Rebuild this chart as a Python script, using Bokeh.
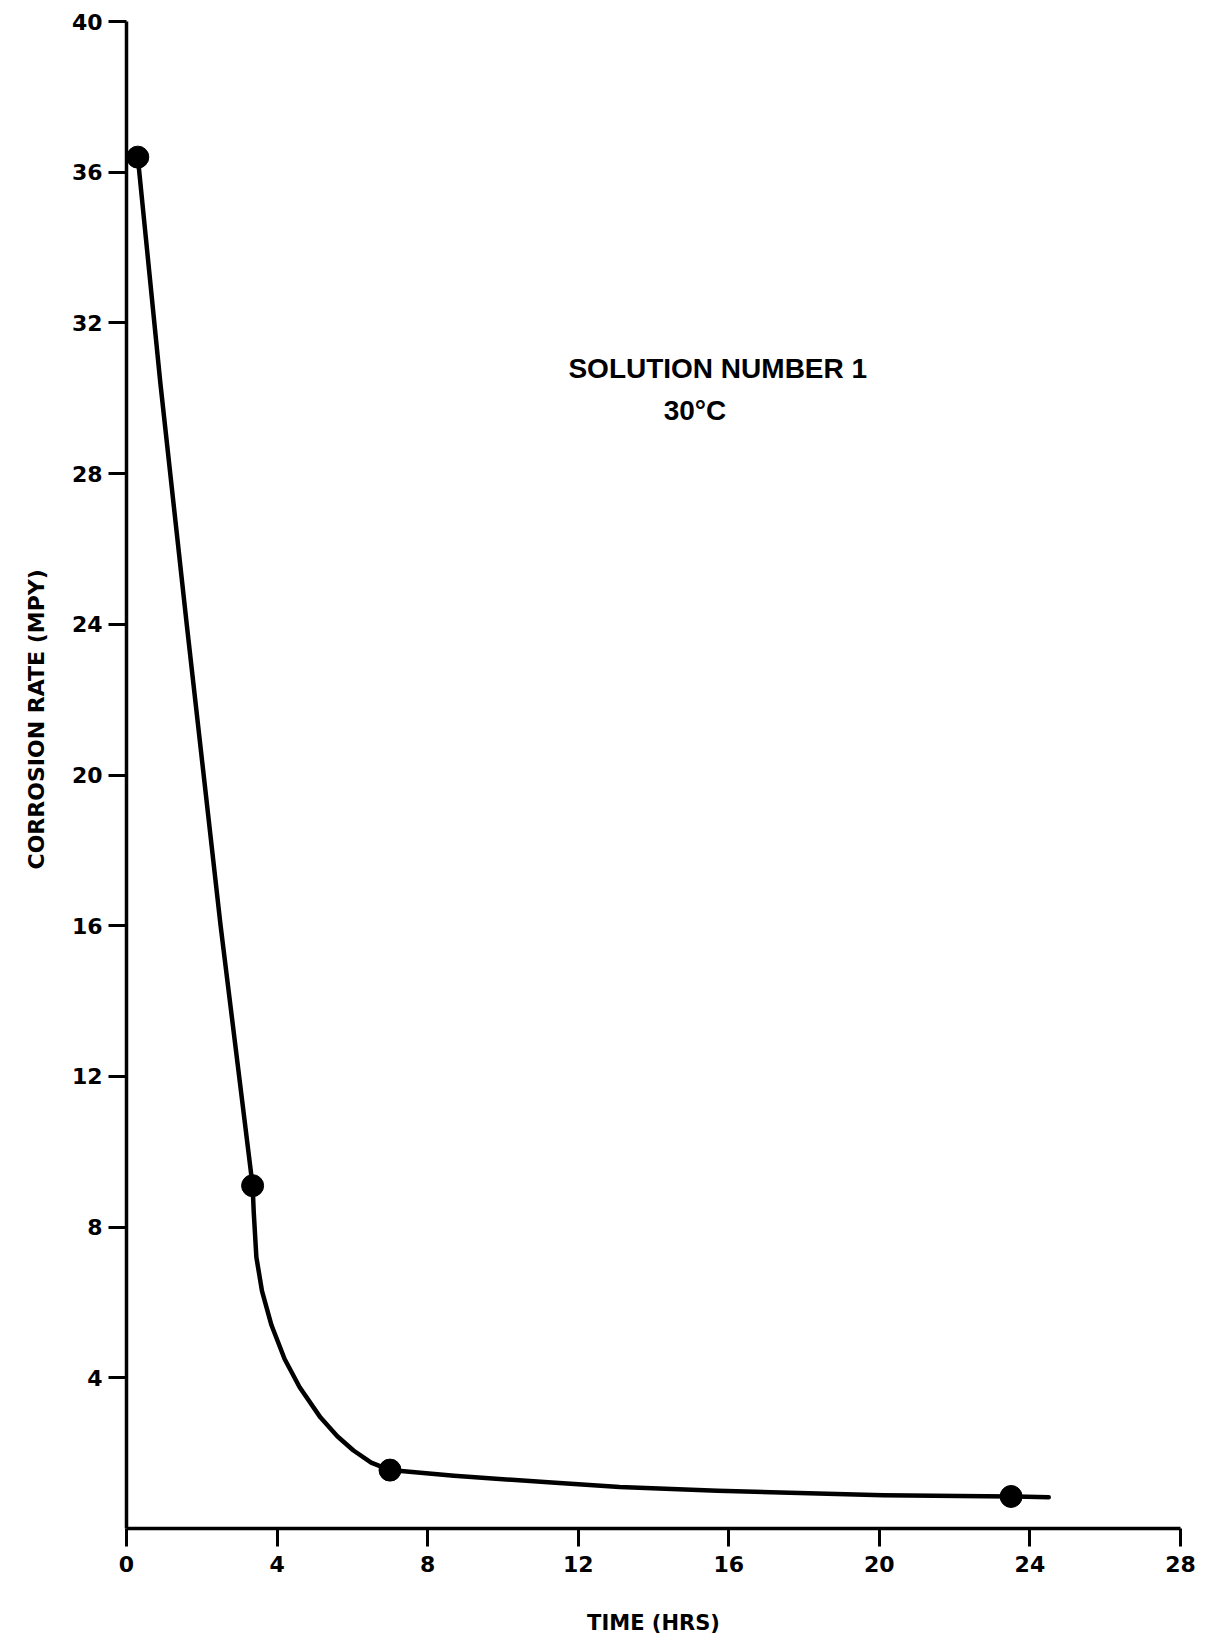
from bokeh.plotting import figure
from bokeh.models import Range1d, FixedTicker, Label, Title
from bokeh.embed import file_html
from bokeh.resources import INLINE

# ---- data ----
x_ticks = [0, 4, 8, 12, 16, 20, 24, 28]
y_ticks = [4, 8, 12, 16, 20, 24, 28, 32, 36, 40]

# measured points (time in hrs, corrosion rate in mpy)
point_time = [0.3, 3.35, 7.0, 23.5]
point_rate = [36.4, 9.1, 1.55, 0.85]

# hand-drawn curve traced through the points
curve_time = [0.3, 0.9, 1.6, 2.5, 3.35,
              3.38, 3.45, 3.6, 3.85, 4.2, 4.6, 5.15, 5.6, 6.03, 6.5, 7.0,
              8.7, 11.3, 13.1, 15.7, 20.1, 23.5, 24.5]
curve_rate = [36.4, 30.4, 24.0, 16.0, 9.1,
              8.4, 7.2, 6.3, 5.4, 4.5, 3.75, 2.95, 2.45, 2.07, 1.75, 1.55,
              1.4, 1.22, 1.1, 1.0, 0.88, 0.85, 0.83]

title_line1 = "SOLUTION NUMBER 1"
title_line2 = "30\u00b0C"
x_label = "TIME (HRS)"
y_label = "CORROSION RATE (MPY)"

W, H = 1205, 1642
p = figure(width=W, height=H, output_backend="svg", toolbar_location=None,
           x_range=Range1d(0, 28), y_range=Range1d(0, 40),
           min_border_left=126, min_border_right=25, min_border_top=21,
           min_border_bottom=114)
p.outline_line_color = None
p.background_fill_color = "white"
p.border_fill_color = "white"
p.grid.visible = False

for ax in (p.xaxis[0], p.yaxis[0]):
    ax.axis_line_width = 3.5
    ax.axis_line_color = "black"
    ax.major_tick_line_width = 3
    ax.major_tick_line_color = "black"
    ax.major_tick_in = 0
    ax.major_tick_out = 18
    ax.minor_tick_line_color = None
    ax.major_label_text_font = "DejaVu Sans"
    ax.major_label_text_font_style = "bold"
    ax.major_label_text_font_size = "22px"
    ax.major_label_text_color = "black"

p.xaxis[0].ticker = FixedTicker(ticks=x_ticks)
p.yaxis[0].ticker = FixedTicker(ticks=y_ticks)
p.xaxis[0].major_label_standoff = 9
p.yaxis[0].major_label_standoff = 6

p.xaxis[0].axis_label = x_label
p.xaxis[0].axis_label_text_font = "DejaVu Sans"
p.xaxis[0].axis_label_text_font_style = "bold"
p.xaxis[0].axis_label_text_font_size = "21px"
p.xaxis[0].axis_label_text_color = "black"
p.xaxis[0].axis_label_standoff = 36

# vertical axis title as a left-side title (start of text placed near y=869 px)
ytitle = Title(text=y_label, align="left", offset=659, vertical_align="top",
               text_font="DejaVu Sans", text_font_style="bold",
               text_font_size="22px", text_color="black")
if "standoff" in Title.properties():
    ytitle.standoff = 36
p.add_layout(ytitle, "left")

p.line(curve_time, curve_rate, line_width=4.5, line_color="black", line_join="round",
       line_cap="round")
p.scatter(point_time, point_rate, size=22, fill_color="black", line_color="black")

p.add_layout(Label(x=11.74, y=30.8, text=title_line1, text_align="left",
                   text_baseline="middle", text_font="Liberation Sans",
                   text_font_style="bold", text_font_size="28px", text_color="black"))
p.add_layout(Label(x=14.27, y=29.67, text=title_line2, text_align="left",
                   text_baseline="middle", text_font="Liberation Sans",
                   text_font_style="bold", text_font_size="28px", text_color="black"))

open("out.html", "w").write(file_html(p, INLINE))
